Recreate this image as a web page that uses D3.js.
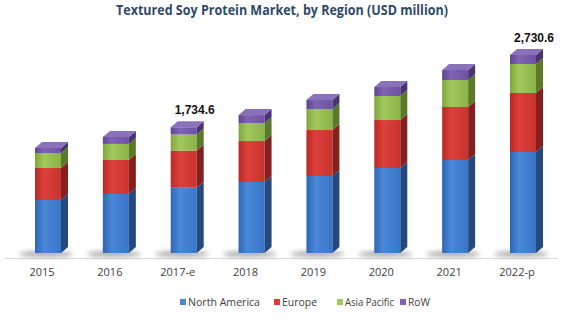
<!DOCTYPE html>
<html><head><meta charset="utf-8">
<script src="https://cdn.jsdelivr.net/npm/d3@7"></script>
<style>body{margin:0;background:#fff}svg{display:block}</style>
</head><body>
<svg id="c" width="577" height="322"></svg>
<script>
const categories = ["2015","2016","2017-e","2018","2019","2020","2021","2022-p"];
const seriesNames = ["North America","Europe","Asia Pacific","RoW"];
const northAmerica = [731, 814, 900, 979, 1062, 1172, 1283, 1393];
const europe       = [441, 469, 512, 565, 634, 662, 731, 814];
const asiaPacific  = [207, 221, 222, 248, 290, 331, 372, 400];
const row          = [69, 97, 100.6, 110, 124, 124, 138, 123.6];
const totalLabels  = {"2017-e":"1,734.6", "2022-p":"2,730.6"};
const title = "Textured Soy Protein Market, by Region (USD million)";

const colors = [
  {front:["#2f66b3","#4a88d8","#3a74c6"], side:"#24497f", top:"#5b92d8"},
  {front:["#b82a27","#dc3f3a","#c83430"], side:"#85201e", top:"#e06a66"},
  {front:["#7fa73c","#a0c85a","#8cb24a"], side:"#5a7a28", top:"#b6d67c"},
  {front:["#5f4591","#8064b3","#6e52a3"], side:"#4a3373", top:"#8a72bb"}
];

const svg = d3.select("#c");
const defs = svg.append("defs");
colors.forEach((c,i)=>{
  const g = defs.append("linearGradient").attr("id","g"+i).attr("x1","0").attr("x2","1").attr("y1","0").attr("y2","0");
  g.append("stop").attr("offset","0").attr("stop-color",c.front[0]);
  g.append("stop").attr("offset","0.35").attr("stop-color",c.front[1]);
  g.append("stop").attr("offset","1").attr("stop-color",c.front[2]);
});
defs.append("filter").attr("id","blur").attr("x","-50%").attr("y","-200%").attr("width","200%").attr("height","500%")
  .append("feGaussianBlur").attr("stdDeviation","2.5");

const data = categories.map((c,i)=>({cat:c, vals:[northAmerica[i],europe[i],asiaPacific[i],row[i]]}));
const x = d3.scalePoint().domain(categories).range([48, 523]);
const y = d3.scaleLinear().domain([0, 2730.6]).range([253, 55]);
const bw = 26, dx = 7, dy = 6;

// title
svg.append("text").attr("x", 282).attr("y", 15).attr("text-anchor","middle")
  .attr("font-family","'Open Sans', sans-serif").attr("font-weight","bold").attr("font-size",15)
  .attr("fill","#2e4a6b").attr("textLength",332).attr("lengthAdjust","spacingAndGlyphs").text(title);

// axis line
svg.append("line").attr("x1",5).attr("x2",558).attr("y1",258.5).attr("y2",258.5).attr("stroke","#d9d9d9").attr("stroke-width",1);

// shadows
svg.append("g").selectAll("ellipse").data(data).join("ellipse")
  .attr("cx", d=>x(d.cat)-2).attr("cy", 254).attr("rx", 27).attr("ry", 2.5)
  .attr("fill","#777").attr("opacity",0.75).attr("filter","url(#blur)");

const bars = svg.append("g").selectAll("g").data(data).join("g");
bars.each(function(d){
  const g = d3.select(this);
  const x0 = x(d.cat) - bw/2, x1 = x0 + bw;
  let cum = 0;
  d.vals.forEach((v,i)=>{
    const yb = y(cum), yt = y(cum+v);
    cum += v;
    g.append("rect").attr("x",x0).attr("y",yt).attr("width",bw).attr("height",yb-yt).attr("fill","url(#g"+i+")");
    g.append("path").attr("d",`M${x1},${yb}L${x1},${yt}L${x1+dx},${yt-dy}L${x1+dx},${yb-dy}Z`).attr("fill",colors[i].side);
    if(i===d.vals.length-1){
      g.append("path").attr("d",`M${x0},${yt}L${x0+dx},${yt-dy}L${x1+dx},${yt-dy}L${x1},${yt}Z`).attr("fill",colors[i].top);
    }
  });
  if(totalLabels[d.cat]){
    g.append("text").attr("x", x(d.cat)+11).attr("y", y(cum)-dy-7).attr("text-anchor","middle")
      .attr("font-family","'Liberation Sans', Arial, sans-serif").attr("font-weight","bold").attr("font-size",12)
      .attr("fill","#111").text(totalLabels[d.cat]);
  }
});

// x axis labels
svg.append("g").selectAll("text").data(categories).join("text")
  .attr("x", d=>x(d)-6).attr("y", 276).attr("text-anchor","middle")
  .attr("font-family","'Open Sans', sans-serif").attr("font-size",11).attr("fill","#404040").text(d=>d);

// legend
const legendX = [180, 274, 337, 400];
const legendW = [72, 35, 49, 22];
const lg = svg.append("g").selectAll("g").data(seriesNames).join("g")
  .attr("transform",(d,i)=>`translate(${legendX[i]},302)`);
lg.append("rect").attr("x",0).attr("y",-3).attr("width",6).attr("height",6).attr("fill",(d,i)=>colors[i].front[1]);
lg.append("text").attr("x",8).attr("y",4).attr("font-family","'Open Sans', sans-serif").attr("font-size",11)
  .attr("fill","#404040").attr("textLength",(d,i)=>legendW[i]).attr("lengthAdjust","spacingAndGlyphs").text(d=>d);
</script>
</body></html>
